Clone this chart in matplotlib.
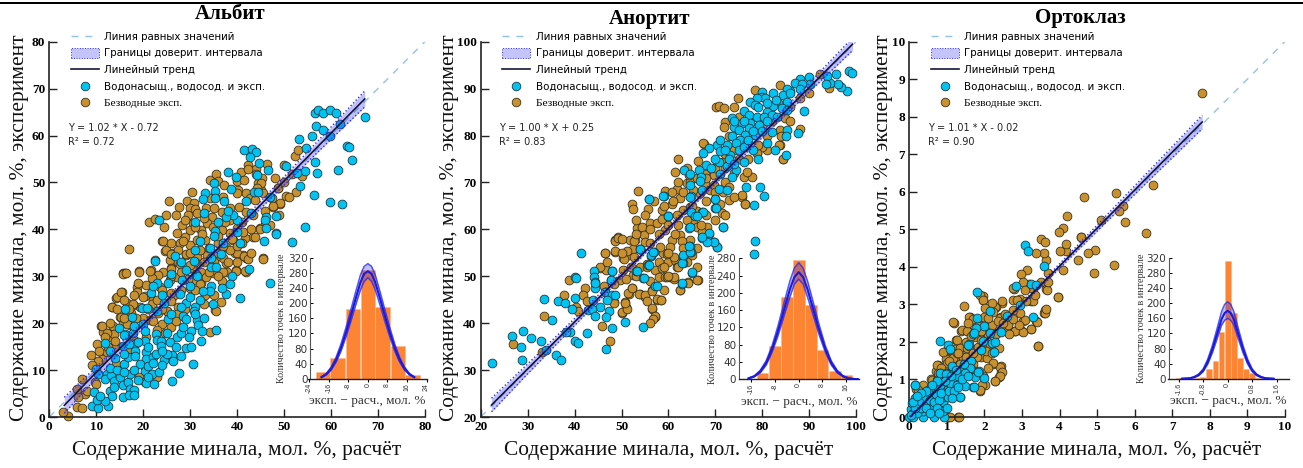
import numpy as np
import matplotlib
matplotlib.use('Agg')
import matplotlib.pyplot as plt
from matplotlib.lines import Line2D
from matplotlib.patches import Patch, Rectangle

W, H = 1303, 468
SERIF = 'Liberation Serif'
SANS = 'DejaVu Sans'

# Альбит: водонасыщенные (cyan)
ab_wet = [(67.2,64),(61.9,62.4),(59.9,60),(56.7,64.9),(57.2,65.5),(58.4,64.8),(59.9,65.5),(61,64.9),(56.9,62),(58.3,61.2),(56,59.8),(53.1,59.3),(54.7,57.4),(63.5,57.7),(63.9,57.5),(64.4,54.7),(61.6,52.6),(56.7,54.3),(57.1,52),(54.5,52.4),(52.8,52.1),(50.5,53.4),(53.5,49.2),(56.4,47.4),(59.7,45.8),(62.3,45.3),(54.4,40.6),(41.5,56.9),(43.2,57.2),(44.1,56.5),(42.8,55.4),(44.6,54.2),(46.6,52.6),(44.3,51.5),(39.7,51.2),(38,52.3),(35.1,49.9),(38.7,48.5),(35.3,48.2),(33.1,47.8),(32.8,46.4),(35.2,46.6),(37.3,46.1),(43.7,47.9),(44.5,47.9),(47,46.9),(48.4,42.8),(46.2,42.7),(45.9,41.9),(46.2,40.3),(48.3,39.3),(42.9,43.4),(39.9,42),(39.2,43),(37.6,42.7),(23.3,42),(35.2,39.7),
          (51.8,37.3),(48.2,39),(45.7,37.5),(47,28.5),(42.6,31.5),(40.6,37),(40.7,25.3),(38.9,30),(38.4,28.4),(37.7,26.2),(36.6,34.8),(36.7,27.4),(34.2,36),(34.4,31.9),(35.5,31.9),(34.4,33.9),(34.4,28),(34.2,26.9),(34.9,24.1),(32.2,37.5),(31.1,35.5),(30.8,33.3),(29.2,31.4),(28.2,29.3),(27.9,26.2),(29.1,24.4),(30,25.5),(32.1,25),(32.7,26.9),(31,23.5),(30.9,22.5),(26.7,34.4),(22.6,33.3),(23,28.5),(25.2,28.6),(21.6,26.4),(24.5,24.4),(19.8,23.2),(20.9,23.2),(16.1,23),(17.7,21.3),(25.2,20.8),(22.9,22.7),(20,19.8),(20.3,18.3),(14.8,18.9),(16.2,17.7),(17.9,18),(11.9,15.8),(15.6,15.2),(18.4,15.8),(20.3,16.3),(22.8,17.6),(22.9,16.4),(23.8,16.3),(23.9,15.1),(25.7,15.9),(27.1,17),(28.1,17.8),(28.5,21.5),(28.4,19.1),(29.2,20.8),(30.1,18.4),(29.8,17),(31.5,20.7),(31.7,19.6),(32.6,18.4),(32.3,16.1),(35.6,18.6),(29.2,14.7),(30.2,15),(28.1,13.1),(26.1,13.3),(26.4,12),(24.5,12.2),(27.7,9.3),(26.2,7.6),(30.6,11.3),(9.9,10.2),(10.4,9.2),(12.2,9.2),(11.8,8),(13.2,9),(13.8,7.7),(12.9,5.6),(13.3,4.4),(13.8,6.5),(15,8.5),(15.6,6.9),(16.8,7.4),(17.2,9.2),(16,11.3),(16.8,12.7),(18.2,14.1),(18.2,13.1),(20.7,13.8),(20.7,12.4),(19.3,11.3),(20.4,9.9),(21,10.9),(22.1,12.7),(22.8,13.4),(21.8,9.2),(20.7,7.2),(22.3,7),(23.4,9.5),(17.2,6),(18.1,5.8),(15.8,4.3),(16.9,4.7),(18.1,4.7),(9.6,5.3),(9.2,2.4),(10.4,2),(10.2,3.7),(12.4,2.3),(11.8,3.5),(10.9,4.5),
          (13,10.5),(14.5,10),(16,9.5),(18,10),(19,7.8),(21,8.5),(22,11.5),(24,11),(25,13.5),(27,15),(25,18),(24,14),(21,15),(19,16),(17,15.5),(16,13.5),(14,12.5),(13,14),(16,17.5),(18,19.5),(26,22),(28,23.5),(31,22),(33,21),(30,28),(31.5,30),(28,33),(26,30.5),(24,26),(22,28),(37,37),(40,39.5),(35,38.5),(42,46),(38,44),(33,43.5),(31,41.5),(36,41.5)]
# Альбит: безводные (brown)
ab_dry = [(25.5,46.1),(16.9,35.9),(13.3,23.5),(11.1,19.3),(15.4,26.6),(14.3,25.3),(15.7,30.6),(16.2,30.8),(19.2,31.1),(18.6,27.8),(18.6,26.7),(21.2,41.5),(22.5,42.1),(24.8,43),(24.4,40.6),(24.1,37.6),(21.7,31.3),(22.5,33.5),(27.7,44.8),(29.4,46),(30.5,48),(30.9,45.6),(30,44.5),(31.1,44.4),(31.5,43.4),(29.6,43.1),(30.6,41.4),(33.4,44.6),(34.2,50.5),(35.5,51.7),(36,50.2),(37.2,49.5),(34.2,46.6),(37,47),(39.9,50.2),(40.9,52.2),(41.5,50.5),(42.3,53.7),(44.1,52.8),(45.3,50.9),(44.5,49.8),(45,48.4),(40.2,48.4),(42,47.7),(42.7,46.6),(43.8,46.3),(45.5,47.7),(47.5,46.6),(48.7,48.8),(49.2,45.4),(47.7,44.8),(50.5,47.1),(36.7,43.8),(38.4,44.5),(40.4,44.8),(42,43.8),(43.4,43.1),(44.8,40.2),(43.4,38.4),(45.9,41),(41.6,38.1),(39.5,34.9),(41.3,34.5),(42,33.8),(45.5,33.8),(39.7,31.3),(42,31),(37.9,31),(37.7,32.8),(37,33.8),(35.6,34.2),(34.6,42.6),(33.5,41.3),(32.4,39.9),(34.9,40.6),(36.7,39.9),(38.4,39.2),(39.9,40.2),(41.3,39.5),(39.2,37.7),(37.7,36.3),(36,37),(33.1,37.7),(29.9,39.9),(28.2,41),(27.1,39.2),(28.9,38.4),(27.8,37),(29.9,36.7),(31.4,37.7),(29.2,34.5),(31.4,34.2),(33.5,34.5),(26.4,34.9),(24.6,35.3),(25.7,33.5),(27.5,33.1),(26,31.7),(24.3,31),(23.2,30.3),(21.8,29.6),(20.7,28.1),(20.4,25.7),(22.1,25),(23.6,27.8),(25.7,29.2),(27.1,29.9),(30.6,31.7),(32.4,31),(31,29.2),(32.4,28.5),(30,27.4),(33.1,26),(35.3,22.8),(26.4,25.7),(27.5,23.5),(25,22.5),(23.2,22.1),(21.4,20.7),(19.3,23.5),(17.9,23.9),(16.5,24.2),(15,21.4),(13.6,19.3),(12.2,17.8),(11.5,18.2),(12.9,17.1),(15.7,20),(17.5,22.1),(17.2,19.6),(23.9,25),(36.7,28.9),(34.9,30.6),(38.4,42),(39.9,47.7),
          (52.3,55.6),(53,56.9),(50.1,53.8),(51.7,51.7),(53.9,51.3),(48.7,48.8),(52.6,47.9),(51.1,47),(49.2,45.6),(47.7,45),(46.4,53.9),(42.3,52.8),(44.1,51.7),(45.2,49.9),(44.3,48.8),(44.8,40),
          (4,0.2),(3,1),(5.8,2.1),(6.9,1.9),(7.6,4.9),(6.2,4.2),(8.9,13.3),(10.1,15.6),(11.2,19.3),(11.2,12.4),(10.4,12),(12.2,13.8),(14,14.9),(19.1,31),(15.8,30.5),(16.3,30.6),(14.5,25.5),(15.2,26.6),(13.3,23.5),(19.1,8.5),(20.4,7.4),(22.9,8.5),(24.2,37.5),(45.5,33.7),(41.7,31.2),(39.7,31.2),(39.9,34.9),(41.5,34.4),(42.3,33.7),(43.8,38.3),(35.6,22.7),(34.2,18.2),(21.4,31.2),(24.9,35.5),(25.9,34.8),(25.9,31.6),(29.2,34.8),(31.3,30.5),(33.4,29.8),(32,28.4),(27.8,32.6),(17.9,24.1),(20,25.5),(21.8,24.1),(25,22.7),(26,24.8),(27.1,22),(24.1,19.8),(24.6,18),(25.9,19.1),(16.5,19.8),(15.2,21.3),(13.8,17.7),(12.2,18),(11.8,17),(14,16.3),(14.3,11.3),(9.7,7.4),
          (26,37),(27.5,35.5),(28.5,37.5),(30,35),(31,33),(32,35.5),(33,33),(34,31),(35,33),(36,35),(37,31),(38,33),(38.5,35.5),(40,36.5),(36,38.5),(34,36),(32.5,39),(31,40.5),(29,42),(27,43),(33,42.5),(35,44.5),(37.5,41.5),(39,38),(41,41.5),(43,40),(26,30),(28,31),(29.5,29.5),(28,27),(26,26.5),(24,27),(23,25),(21,23),(20,21),(18.5,21),(17,23),(16,25),(18,26),(19,28.5),(24,23),(22,20.5),(23,18.5),(20.5,17),(18,16.5),(17,14.5),(13,20),(14.5,23),(16,21),(12.5,15),(10.5,14),(9,11),(7,8),(6,6),(8,5.5),(10,7),(30,32.5),(31,27),(33,24),(35,26),(36.5,24.5),(29,23),(27,20.5),(36,30),(40,33),(43,35),(41,37),(37,36.5),(47,41),(49,43),(46,44),(50,50),(48,51)]

# Анортит
an_wet = [(98.4,93.8),(99,93.4),(98.1,89.4),(96.7,90.4),(96.2,90.9),(95.7,93.1),(94.5,91.1),(93.8,92.6),(93.6,91),(89.9,92.4),(88.1,92),(87,91.3),(90.2,91),(88.4,91),(85.8,89.4),(85.2,89.9),(84.5,88.7),(82.3,89),(79.9,89.2),(79.9,88.3),(80.6,87.9),(78.9,87.9),(77.4,87.2),(78.5,86.5),(85.2,87.2),(83.4,86.9),(82.3,86.2),(84.1,85.8),(85.2,85.5),(81,85.1),(76,85.2),(77.1,84.4),(78.9,84),(80.3,84),(82.1,84.4),(83.1,84),(73.5,83.7),(75.7,82.6),(77.4,82.6),(79.2,82.3),(73.9,81.9),(75,81.2),(77.1,81.5),(82.1,80.8),(85.2,81.2),(85.1,79.9),(87.7,80.5),(88.9,85.2),(78.5,80.1),(76.4,80.1),(73.5,79.8),(75.3,79.1),(76.7,78.7),(74.3,78.4),(72.5,78),(70.4,77.9),(68.6,77.3),(67.3,76.2),(71,76.6),(73.2,75.9),(75,76.9),(80.9,78.4),(82.8,76.9),(85.1,75.8),(76,74.4),(70.7,74.3),(72.5,73.6),(74.3,72.7),(67.9,73.7),(66.5,72.7),(63.3,72.7),(64.5,71.8),(66.9,71.2),(71,71.9),(73.5,71.2),(64.6,69.5),(66.8,70.2),(67.2,68.4),(70.7,68.6),(72.5,68.4),(76.5,69.1),(79.6,69.1),(80.4,67.1),(78.2,65.2),(70,66.5),(70,64.5),(64.7,67.1),(59,67.2),(55.8,66.4),(59.9,62.9),(64.7,63.8),(67.2,63.6),(65.7,62.9),(64.3,60.2),(71.6,60.6),(68.6,59.3),
          (78.4,57.5),(78.3,54.8),(70.4,56.2),(69.6,57.2),(68.4,57.5),(67.2,58.2),(64.5,56.5),(64.7,55.1),(63,54.4),(63,52.8),(65.1,50.8),(62.8,48.4),(57.2,47.9),(54.6,49.6),(55.7,52.4),(56.2,54.4),(56.9,55.1),(54,55.8),(53.1,51.2),(47.9,51.2),(47.7,49.1),(44.1,51.2),(44.1,49.8),(44.3,48.7),(44.3,47.5),(41.4,54.9),(40,49.8),(40.4,49.6),(40.1,45.3),(39.5,43),(44,45),(45.5,43.5),(42.8,42.8),(43.8,43),(44.3,41.6),(47.3,42.5),(46.8,41.3),(46.5,46.6),(48,45.9),(48.7,46.1),(47,45),(50.8,40.3),(54.6,39.1),(48,39),(42.7,37.8),(39,38.1),(38.2,38.1),(40.1,36.1),(40.8,35.7),(46.7,34.4),(33.9,34.3),(36,33.2),(37.2,32.2),(28.9,32.2),(28.5,35),(29,38.3),(26.7,37.2),(30.8,36.8),(32.8,36.1),(22.5,31.6),(33.5,45.2),(35.1,40.7),(36.4,44.8),(37.9,44.3),
          (44.4,48.5),(48,51.2),(47.7,49.2),(54.7,49.7),(53.2,51.2),(55.8,52.5),(57.5,47.9),(62.9,48.5),(65,50.9),(62.8,52.9),(63,54.5),(64.6,55.2),(64.4,56.4),(70.3,56.2),(69.6,57.3),(68.3,57.4),(67.1,58.3),(64.6,60.4),(71.7,60.6),(67.3,63.8),(66,62.9),(59.9,62.8),(54,55.9),(56.2,54.5),(56.8,55.2),(55.8,66.4),(58.9,67.2),(64.6,67),(70,66.5),(70.1,64.5),
          (76,77.5),(78,77),(79,75),(77,79),(80,81),(81,83),(79,86),(81,87),(83,87.5),(86,89),(88,90),(73,75),(74,74),(70,75),(69,73),(71,79),(74,83),(76,83),(78,81),(72,77)]
an_dry = [(53.6,68.2),(52.3,65.5),(52.4,64.4),(55.7,64.4),(61.3,72.3),(66.2,74.6),(67.5,78.3),(46.4,54.9),(48.6,55.2),(48.6,57.7),(49.3,58.3),(45.4,51.7),(46.7,51.3),(50.4,53.8),(51.5,54.5),(51.8,57.7),(52.9,57.7),(52.5,55.9),(53.2,60.2),(54.3,60.6),(54.7,58.8),(55,57.4),(56.1,61.3),(57.5,61.3),(58.6,62.3),(58.6,64.1),(60.7,65.5),(59.3,68.2),(61.8,68.7),(60.7,68),(62.5,66.6),(63.9,69.8),(64.6,70.1),(63.2,64.1),(61.8,63),(64.6,64.8),(65.3,62),(66,60.6),(68.2,60.6),(67.1,59.5),(68.7,59.1),(65,54.5),(64.6,57.7),(62.5,58.8),(60.7,57.7),(61.4,59.1),(59.3,59.8),(60.4,56.3),(58.9,54.9),(60,53.1),(61.4,53.4),(57.9,53.1),(57.2,51.3),(58.6,51.7),(60.4,49.9),(57.9,49.9),(59.3,49.8),(61.1,49.5),(64.1,48.7),(66.2,49.2),(62.5,47),(55.4,52.7),(54,52),(52.5,50.3),(50.4,51.3),(49.7,49.2),(48.3,44.6),(50.8,44.6),(52.2,47.4),(51.5,46.3),(54,46.3),(55,45.6),(56.4,47),(57.5,45),(58.4,44.9),(56.4,43.1),(51,43.5),(50.2,42.2),(57.2,41.4),(75.6,66.8),(76.4,65.4),(72.9,66.2),(71.4,63.4),(71,65.5),(68.9,68.4),(71.7,68),(67.8,71.9),(69.6,71.6),(71.7,74.4),(76,71.2),(77.8,71.2),(76.7,72.3),(83.8,78),(84.5,75.1),(81,76.9),(78.8,76.2),(66.8,67.7),(65.3,68.4),(67.8,69.8),(69.6,69.4),(64.3,71.6),
          (92.3,93.1),(83.8,90.8),(94.3,90.1),(78.4,89.6),(74.8,87.9),(73.9,86),(70.2,86),(70.7,86.3),(71.8,85.8),(72.1,82.8),(71.9,81.9),(67.4,78.4),(88,81.4),(83.8,81.2),(83.6,77.9),(84.3,75),(79.9,77.6),(78.9,76.2),(84.9,83.7),(75.7,67.3),(76.4,65.4),
          (48.7,57.6),(49.2,58.2),(46.5,54.9),(48.6,55.3),(45.4,51.9),(38.8,49.3),(42.3,47.4),(37.7,46),(41.8,46.1),(42.6,44.8),(33.5,41.5),(26.9,35.6),(33.1,33.8),(40.2,43.4),(40.7,42.5),(45.9,39.3),(47.5,36.1),(50.1,42.3),(51.2,43),(50.7,44.4),(51.4,46.4),(48.4,44.4),(46.2,48),(48.4,48.4),(52.3,47.6),(53.8,46.2),(55.1,45.9),(55.5,44.8),(56.5,46.9),(57.6,45.2),(58.5,44.9),(56.5,43.2),(57.2,41.6),(56.7,40.9),(56,40),(64.1,48.5),(66.1,49.2),(62.4,47.1),(59.7,49.8),(61.1,49.8),(59,51.9),(61.8,51.9),(58.3,56.2),(59.7,54.8),(61.1,54),(62.9,57.6),(52.6,57.6),(51.2,55.4),(50.5,53.7),(52.6,54),(55.5,51.9),
          (50,58),(53,59),(56,60),(58,59),(60,61),(62,61),(64,62),(66,64),(68,66),(70,68),(72,70),(74,72),(73,69),(68,71),(66,71),(63,68),(61,66),(59,65),(57,66),(55,63),(53,62),(50,55),(47,53),(52,52),(56,57),(60,55),(63,56),(66,56),(68,63),(70,62),(72,63),(74,67),(75,75),(77,75),(79,78),(81,80),(72,73),(70,73),(72,76),(74,77),(73,80),(75,84),(77,83),(80,82),(82,83),(84,80),(86,83),(88,88),(90,89),(86,86),(62,75),(64,73),(62,70),(65,65),(67,61),(60,50),(56,49),(59,47),(53,50),(51,49.5),(62,52),(64,53),(66,52)]

# Ортоклаз
or_wet = [(3.09,4.58),(3.16,4.41),(3.58,4.02),(2.85,3.5),(3.23,3.54),(3.38,3.52),(2.95,2.99),(3.29,2.67),(2.61,2.7),(2.14,2.83),(1.8,3.32),(1.8,2.63),(1.99,2.43),(1.77,2.37),(1.7,2.21),(2.14,2.23),(2.43,2.26),(2.2,1.96),(2.27,1.99),(2.25,1.72),(1.6,1.94),(1.96,2.03),(1.92,1.79),(.83,2.02),(1.03,1.93),(1.09,1.82),(1.63,1.5),(1.15,1.37),(.81,1.16),(.97,1.16),(1.47,1.28),(1.65,1.28),(1.85,1.22),(1.74,1.06),(1.99,1.03),(1.49,.83),(1.7,.79),(1.36,.52),(1.3,1.06),(1.12,.92),(1.25,.83),(1.03,.75),(.81,.75),(.54,.75),(.16,.86),(.23,.52),(.14,.44),(.36,.52),(.5,.61),(.67,.52),(.94,.52),(.9,.39),(1.16,.61),(.72,.35),(.5,.35),(.32,.35),(.05,.21),(.19,.21),(0,0),(.1,0),(.36,0),(.67,0),(.92,0),(.9,.17),(.59,.17),(.36,.17),(1.25,.97),
          (1,.94),(1.08,.9),(1.31,1.08),(.82,.86),(.64,.72),(.51,.72),(.29,.59),(.15,.5),(.06,.37),(.42,.37),(.6,.28),(.77,.54),(.91,.54),(1.04,.54),(1.17,.68),(1.35,.53),(1.71,.81),(1.84,1.21),(1.62,1.3),(1.48,1.17),(1.26,.86),(.82,1.17),(.97,1.15),(1.57,1.92),(1.71,2.23),(.15,.86),
          (.1,.1),(.2,.1),(.3,.25),(.4,.5),(.45,.25),(.55,.45),(.65,.4),(.7,.6),(.8,.45),(.85,.65),(1.05,.7),(1.2,.7),(1.15,.5),(1.3,.8),(1.4,1),(1.55,1.1),(1.45,1.4),(1.25,1.25),(1.1,1.1),(.95,.95),(.75,.95),(.6,.85),(.45,.7),(.3,.65),(.25,.4),(.15,.25),(.1,.4),(.05,.05),(.2,.55),(.75,.25),(.55,.1),(.8,.1),(1.0,.25)]
or_dry = [(7.8,8.62),(6.5,6.18),(5.5,5.98),(4.64,5.87),(5.69,5.63),(5.59,5.48),(4.21,5.36),(5.1,5.25),(5.75,5.2),(4.09,5.04),(3.98,4.92),(4.58,4.8),(6.31,4.89),
          (5.45,4.04),(4.92,3.83),(4.94,4.45),(4.76,4.37),(4.49,4.17),(4.18,4.43),(4,4.43),(4.16,4.61),(4.58,4.79),(3.96,3.19),(3.65,4.17),(3.69,3.85),(4.1,3.92),(3.52,4.74),(3.62,4.65),(3.6,4.36),(3.38,4.37),(3.14,3.92),(2.98,3.81),(3.43,1.9),(3.6,2.76),(3.62,2.85),(3.38,2.55),(3.25,2.34),(3,2.3),(3.03,2.57),(2.81,2.3),(2.58,2.3),(2.63,2.48),(2.45,2.66),(2.48,3.05),(2.32,2.92),(2.76,3.12),(2.94,3.14),(3.25,3.1),(3.65,3.41),(3.65,3.56),(3.29,3.41),(3.2,3.54),(3.03,3.59),(2.8,3.41),(1.96,3.23),(1.96,3.12),(1.46,2.97),(1.61,2.66),(1.19,2.51),(1.39,2.3),(1.25,2.05),(1.56,2.3),(1.83,2.48),(2,2.66),(2.18,2.79),(2,2.21),(1.74,2.12),(1.47,1.86),(1.83,1.86),(1.21,1.81),(1.03,1.77),(.99,1.55),(.76,1.39),(.94,1.37),(1.21,1.55),(1.43,1.59),(1.56,1.41),(1.92,1.59),(2.23,1.41),(2.45,1.37),(2.43,1.19),(2.27,.97),(2.4,1.06),(2.01,.86),(1.87,.7),(1.3,1.37),(.72,1.23),(.59,1.01),(.36,.83),(.19,.75),(1.31,0),(1.03,0),(.81,.12),
          (1.17,2.53),(1.88,3.25),(1.97,3.12),(1.59,2.66),(1.26,2.05),(1.4,2.32),(2.02,2.9),(2.28,2.94),(2.46,3.08),(2.24,2.81),(2.42,2.63),(2.64,2.45),(2.82,2.29),(3.04,2.26),(3.25,2.34),(3.39,2.54),(3.08,2.59),(2.91,2.45),(2.95,2.77),(2.77,2.85),(3.62,2.77),(3.63,2.87),(3.44,1.9),(3.97,3.21),(3.29,3.08),(2.86,3.12),(2.77,3.43),(3.08,3.39),(3.66,3.39),(1,1.79),(.91,1.74),(1.17,1.57),(.73,1.39),(1.66,1.25),(2.42,1.34),(2.46,1.21),(2.42,1.08),(2.28,.96),(1.93,.86),(1.88,.72),(.37,.86),(.6,.99),(.24,.72),(1.08,.01),(1.32,0),(1.53,2.28),(1.8,2.45),(2,2.14),(1.26,1.7),(1.44,1.61),(1.8,1.61),(2.06,1.57),(2.24,1.43),(.73,.99),(.77,1.17),(1,1.43),(1.13,1.34),(1.35,1.83),(1.53,1.83),(2.02,1.79),(.77,.19),(.73,.37),(.91,.41),(.55,.15),
          (1.5,1.6),(1.6,1.9),(1.7,1.7),(1.35,1.4),(1.1,1.2),(.9,1),(1.3,1.7),(1.05,1.5),(.85,1.3),(1.5,2),(1.65,2.15),(1.9,2.05),(2.1,2.2),(2.2,2.45),(2.35,2.55),(2.5,2.5),(2.55,2.75),(2.65,2.2),(2.3,2.2),(2.15,1.95),(2.05,1.75),(2.2,1.7),(2.4,1.85),(1.9,2.3),(1.7,2.6),(1.55,2.5),(2.1,2.65),(2.2,3.05),(1.7,1.4),(1.45,1.2),(1.3,.95),(2.1,1.3),(1.95,1.1),(2.75,2.6),(3.1,3.1),(3.35,3.25),(3.5,3.6),(3.7,3.6),(.55,.6),(.75,.75),(.4,.45),(.9,.8),(.25,.3)]

# тренд и доверительный интервал
ab_tx = [3.2, 10, 20, 35, 50, 60, 67.2]
ab_ty = [2.5, 9.5, 19.7, 35, 50.3, 60.5, 67.8]
ab_hi = [4.2, 10.7, 20.4, 35.5, 51.2, 61.8, 69.5]
ab_lo = [0.8, 8.3, 19, 34.5, 49.4, 59.2, 66.1]
an_tx = [22.3, 30, 40, 55, 70, 85, 99.2]
an_ty = [22.55, 30.25, 40.25, 55.25, 70.25, 85.25, 99.45]
an_hi = [24, 31.3, 41, 55.7, 70.8, 86, 100.8]
an_lo = [21.1, 29.2, 39.5, 54.8, 69.7, 84.5, 98.1]
or_tx = [0, 1, 2, 3, 5, 6.5, 7.8]
or_ty = [-0.02, 0.99, 2, 3.01, 5.03, 6.55, 7.86]
or_hi = [0.02, 1.01, 2.03, 3.05, 5.11, 6.68, 8.04]
or_lo = [-0.05, 0.97, 1.97, 2.97, 4.95, 6.42, 7.68]

# гистограммы
ab_bins = [-18.4, -12.3, -6.1, 0, 6.1, 12.3, 18.4]
ab_counts = [17, 55, 184, 288, 190, 87, 10]
an_bins = [-16.2, -12.2, -8.1, -4.05, 0, 4.05, 8.1, 12.2, 16.2]
an_counts = [1, 15, 78, 190, 276, 172, 67, 20, 10]
or_bins = [-1.6, -1.0, -0.8, -0.6, -0.4, -0.2, 0, 0.2, 0.4, 0.6, 0.8, 1.0, 1.4]
or_counts = [1, 3, 5, 27, 46, 125, 312, 173, 56, 25, 14, 3, 2]

# кривые на гистограммах
ab_cx = [-19, -17, -15, -13, -11, -9, -7, -5, -3, -1.5, 0, 1.5, 3, 5, 7, 9, 11, 13, 15, 17, 19]
ab_cy = [4, 12, 27, 50, 82, 122, 166, 212, 256, 278, 285, 278, 256, 212, 166, 122, 82, 50, 27, 12, 4]
ab_chi = [5, 14, 31, 57, 92, 135, 182, 230, 276, 298, 305, 298, 276, 230, 182, 135, 92, 57, 31, 14, 5]
ab_clo = [3, 10, 23, 44, 73, 110, 151, 195, 236, 258, 268, 258, 236, 195, 151, 110, 73, 44, 23, 10, 3]
an_cx = [-17, -15, -13, -11, -9, -7, -5, -3, -1.5, 0, 1.5, 3, 5, 7, 9, 11, 13, 15, 17, 20]
an_cy = [2, 7, 18, 38, 70, 112, 160, 208, 236, 248, 236, 208, 160, 112, 70, 38, 18, 7, 2, 0]
an_chi = [3, 8, 21, 43, 78, 124, 176, 227, 257, 270, 257, 227, 176, 124, 78, 43, 21, 8, 3, 0]
an_clo = [1, 6, 15, 33, 63, 101, 146, 190, 220, 232, 220, 190, 146, 101, 63, 33, 15, 6, 1, 0]
or_cx = [-1.5, -1.25, -1.1, -.95, -.8, -.65, -.5, -.35, -.2, -.1, 0, .1, .2, .35, .5, .65, .8, .95, 1.1, 1.25, 1.5]
or_cy = [0, 1, 4, 10, 22, 45, 78, 118, 158, 174, 180, 174, 158, 118, 78, 45, 22, 10, 4, 1, 0]
or_chi = [0, 1, 5, 12, 26, 52, 88, 132, 178, 197, 204, 197, 178, 132, 88, 52, 26, 12, 5, 1, 0]
or_clo = [0, 1, 3, 8, 19, 39, 69, 105, 142, 155, 160, 155, 142, 105, 69, 39, 19, 8, 3, 1, 0]

panels = [
    dict(title='Альбит', title_xy=(230, 14), left=49.3, lim=(0, 80), step=10, wet=ab_wet, dry=ab_dry,
         tx=ab_tx, ty=ab_ty, hi=ab_hi, lo=ab_lo, eq='Y = 1.02 * X - 0.72', r2='R² = 0.72', ylab_x=-0.086,
         ins=(308, 427, 258, 378.7), ins_xlim=(-24.5, 24.2), ins_ymax=320, ins_spine=-23.5, ins_yt=40,
         ins_xt=[-24, -16, -8, 0, 8, 16, 24], ins_xl=['-24', '-16', '-8', '0', '8', '16', '24'],
         bins=ab_bins, counts=ab_counts, width=6.0, cx=ab_cx, cy=ab_cy, chi=ab_chi, clo=ab_clo),
    dict(title='Анортит', title_xy=(650, 19), left=480.7, lim=(20, 100), step=10, wet=an_wet, dry=an_dry,
         tx=an_tx, ty=an_ty, hi=an_hi, lo=an_lo, eq='Y = 1.00 * X + 0.25', r2='R² = 0.83', ylab_x=-0.09,
         ins=(739, 859, 258.3, 379.3), ins_xlim=(-20.2, 20.4), ins_ymax=280, ins_spine=-20.2, ins_yt=40,
         ins_xt=[-16, -8, 0, 8, 16], ins_xl=['-16', '-8', '0', '8', '16'],
         bins=an_bins, counts=an_counts, width=3.95, cx=an_cx, cy=an_cy, chi=an_chi, clo=an_clo),
    dict(title='Ортоклаз', title_xy=(1080, 18), left=909.3, lim=(0, 10), step=1, wet=or_wet, dry=or_dry,
         tx=or_tx, ty=or_ty, hi=or_hi, lo=or_lo, eq='Y = 1.01 * X - 0.02', r2='R² = 0.90', ylab_x=-0.075,
         ins=(1168, 1288.6, 258, 378.7), ins_xlim=(-1.95, 1.99), ins_ymax=320, ins_spine=-1.92, ins_yt=40,
         ins_xt=[-1.6, -0.8, 0, 0.8, 1.6], ins_xl=['-1.6', '-0.8', '0', '0.8', '1.6'],
         bins=or_bins, counts=or_counts, width=0.19, cx=or_cx, cy=or_cy, chi=or_chi, clo=or_clo),
]

CYAN = '#00c3f2'
BROWN = '#c8912e'
BAND = '#2b2bf5'
DIAG = '#93c1ee'


def px_axes(fig, l, r, t, b):
    return fig.add_axes([l / W, 1 - b / H, (r - l) / W, (b - t) / H])


fig = plt.figure(figsize=(W / 100, H / 100), dpi=100)
fig.add_artist(Rectangle((0, 1 - 4.2 / H), 1, 2.6 / H, transform=fig.transFigure, color='black', lw=0))

for p in panels:
    ax = px_axes(fig, p['left'], p['left'] + 375.5, 41.7, 417)
    lo_, hi_ = p['lim']
    ax.set_xlim(lo_, hi_)
    ax.set_ylim(lo_, hi_)
    ax.plot([lo_, hi_], [lo_, hi_], ls=(0, (5, 5)), color=DIAG, lw=1, zorder=1)

    dry = np.array(p['dry']).T
    wet = np.array(p['wet']).T
    ax.scatter(dry[0], dry[1], s=40, c=BROWN, edgecolors='#3a3320', linewidths=0.6, zorder=2, clip_on=False)
    ax.scatter(wet[0], wet[1], s=40, c=CYAN, edgecolors='#1c3a44', linewidths=0.6, zorder=3, clip_on=False)

    ax.fill_between(p['tx'], p['lo'], p['hi'], color=BAND, alpha=0.3, lw=0, zorder=4)
    ax.plot(p['tx'], p['hi'], color=BAND, lw=1, ls=':', zorder=5)
    ax.plot(p['tx'], p['lo'], color=BAND, lw=1, ls=':', zorder=5)
    ax.plot(p['tx'], p['ty'], color='#14143c', lw=1.2, zorder=6)

    for s in ['top', 'right']:
        ax.spines[s].set_visible(False)
    for s in ['left', 'bottom']:
        ax.spines[s].set_linewidth(1.2)
        ax.spines[s].set_color('#222222')
    ticks = np.arange(lo_, hi_ + p['step'] / 2, p['step'])
    ax.set_xticks(ticks)
    ax.set_yticks(ticks)
    ax.tick_params(direction='in', length=5.5, width=1, color='#222222', pad=3)
    for t in ax.get_xticklabels() + ax.get_yticklabels():
        t.set_fontfamily(SERIF)
        t.set_fontweight('bold')
        t.set_fontsize(9.5)

    ax.set_xlabel('Содержание минала, мол. %, расчёт', family=SERIF, fontsize=15.4, color='#111111')
    ax.xaxis.set_label_coords(0.5, -0.09)
    ax.xaxis.label.set_verticalalignment('center')
    ax.set_ylabel('Содержание минала, мол. %, эксперимент', family=SERIF, fontsize=15.4, color='#111111')
    ax.yaxis.set_label_coords(p['ylab_x'] + 0.006, 0.504)
    ax.yaxis.label.set_verticalalignment('center')

    fig.text(p['title_xy'][0] / W, 1 - p['title_xy'][1] / H, p['title'], family=SERIF, weight='bold',
             fontsize=15, ha='center', va='center')

    handles = [
        Line2D([], [], ls=(0, (5, 5)), color=DIAG, lw=1),
        Patch(facecolor='#c4c4fb', edgecolor=BAND, lw=0.7, ls=':'),
        Line2D([], [], color='#14143c', lw=1.2),
        Line2D([], [], ls='', marker='o', ms=6.2, mfc=CYAN, mec='#1c3a44', mew=0.6),
        Line2D([], [], ls='', marker='o', ms=6.2, mfc=BROWN, mec='#3a3320', mew=0.6),
    ]
    labels = ['Линия равных значений', 'Границы доверит. интервала', 'Линейный тренд',
              'Водонасыщ., водосод. и эксп.', 'Безводные эксп.']
    leg = ax.legend(handles, labels, loc='upper left', bbox_to_anchor=(0.058, 1.027), frameon=False,
                    borderpad=0, borderaxespad=0, prop={'family': SANS, 'size': 7.4},
                    labelspacing=0.62, handlelength=2.7, handleheight=1.05, handletextpad=0.55)
    leg.get_texts()[-1].set_fontfamily(SERIF)
    leg.get_texts()[-1].set_fontsize(8.2)

    ax.text(0.05, 0.771, p['eq'], transform=ax.transAxes, family=SANS, fontsize=7, va='center', color='#222222')
    ax.text(0.05, 0.733, p['r2'], transform=ax.transAxes, family=SANS, fontsize=7, va='center', color='#222222')

    # врезка с гистограммой
    l, r, t, b = p['ins']
    ins = px_axes(fig, l, r, t, b)
    ins.patch.set_alpha(0)
    ins.set_xlim(*p['ins_xlim'])
    ins.set_ylim(0, p['ins_ymax'])
    ins.bar(p['bins'], p['counts'], width=p['width'], color='#fd8433', edgecolor='#fdbb8c', lw=0.5, zorder=2)
    ins.fill_between(p['cx'], p['clo'], p['chi'], color=BAND, alpha=0.3, lw=0, zorder=3)
    ins.plot(p['cx'], p['chi'], color=BAND, lw=1.1, alpha=0.8, zorder=4)
    ins.plot(p['cx'], p['clo'], color=BAND, lw=1.1, alpha=0.8, zorder=4)
    ins.plot(p['cx'], p['cy'], color='#1a1ad8', lw=1.5, zorder=5)
    for s in ['top', 'right']:
        ins.spines[s].set_visible(False)
    ins.spines['left'].set_position(('data', p['ins_spine']))
    ins.spines['left'].set_color('#555555')
    ins.spines['left'].set_linewidth(0.8)
    ins.spines['bottom'].set_color('#222222')
    ins.spines['bottom'].set_linewidth(1.0)
    ins.set_yticks(np.arange(0, p['ins_ymax'] + 1, p['ins_yt']))
    ins.set_xticks(p['ins_xt'])
    ins.set_xticklabels(p['ins_xl'], rotation=90, family='Liberation Sans', fontsize=5, color='#333333')
    ins.tick_params(axis='y', direction='in', length=2.5, width=0.7, labelsize=7.5, labelcolor='#333333', pad=2)
    ins.tick_params(axis='x', direction='out', length=2, width=0.8, pad=1)
    ins.set_ylabel('Количество точек в интервале', family=SERIF, fontsize=7.3, color='#333333')
    ins.yaxis.set_label_coords(-27 / (r - l), 0.5)
    ins.yaxis.label.set_verticalalignment('center')
    ins.set_xlabel('эксп. − расч., мол. %', family=SERIF, fontsize=9.5, color='#333333')
    ins.xaxis.set_label_coords(0.5, -0.185)
    ins.xaxis.label.set_verticalalignment('center')

fig.savefig('out.png', dpi=100)
